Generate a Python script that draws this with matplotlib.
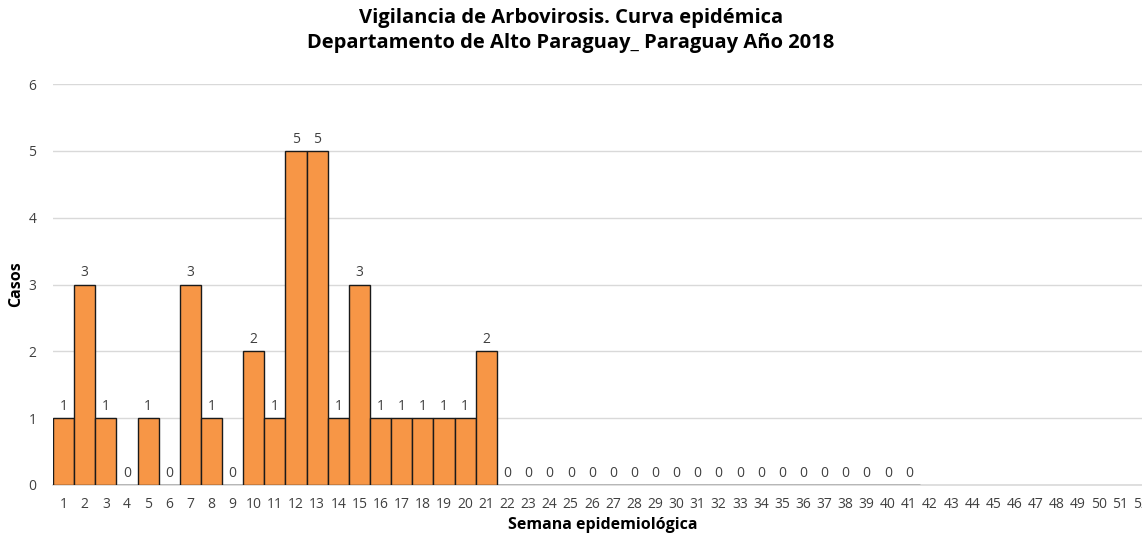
import numpy as np
import matplotlib
matplotlib.use("Agg")
import matplotlib.pyplot as plt

plt.rcParams['font.family'] = ['Open Sans', 'DejaVu Sans']

# weeks 1..52 on the axis, reported cases only up to week 41
semanas = list(range(1, 53))
casos = [1, 3, 1, 0, 1, 0, 3, 1, 0, 2, 1, 5, 5, 1, 3, 1, 1, 1, 1, 1, 2,
         0, 0, 0, 0, 0, 0, 0, 0, 0, 0, 0, 0, 0, 0, 0, 0, 0, 0, 0, 0]
titulo = "Vigilancia de Arbovirosis. Curva epidémica\nDepartamento de Alto Paraguay_ Paraguay Año 2018"

fig = plt.figure(figsize=(11.42, 5.36), dpi=100)
ax = fig.add_axes([53 / 1142, 51 / 536, 1099 / 1142, 401 / 536])

x = np.arange(1, len(casos) + 1)
bars = ax.bar(x, casos, width=1.0, color="#F79646", edgecolor="#1a1a1a", linewidth=1.0, zorder=3)
for xi, v in zip(x, casos):
    ax.text(xi, v + 0.06, str(v), ha="center", va="bottom", fontsize=10, color="#404040")

ax.set_xlim(0.5, 52.5)
ax.set_ylim(0, 6)
ax.set_xticks(semanas)
ax.set_xticklabels([str(s) for s in semanas], fontsize=10, color="#404040")
ax.set_yticks(range(0, 7))
ax.set_yticklabels([str(i) for i in range(0, 7)], fontsize=10, color="#404040")
ax.tick_params(axis="both", length=0)
ax.tick_params(axis="x", pad=9)
ax.tick_params(axis="y", pad=12)
ax.yaxis.grid(True, color="#d9d9d9", linewidth=1, zorder=0)
ax.set_axisbelow(True)
for s in ["top", "right", "left"]:
    ax.spines[s].set_visible(False)
ax.spines["bottom"].set_color("#d9d9d9")
ax.spines["bottom"].set_linewidth(1.2)

ax.set_xlabel("Semana epidemiológica", fontsize=11.5, fontweight="bold", labelpad=3)
ax.yaxis.set_label_coords(-29 / 1099, 0.5)
ax.set_ylabel("Casos", fontsize=11.5, fontweight="bold")
fig.text(0.5, 0.985, titulo, ha="center", va="top", fontsize=14.5, fontweight="bold",
         linespacing=1.35)

fig.savefig("out.png", dpi=100)
